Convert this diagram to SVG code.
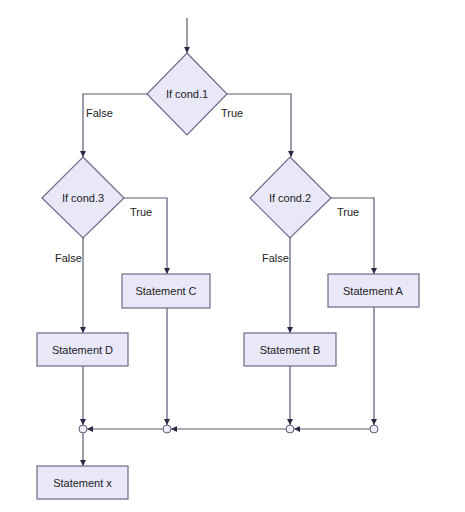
<svg xmlns="http://www.w3.org/2000/svg" width="465" height="512" viewBox="0 0 465 512">
<defs>
<style>
.n{fill:#e8e8f8;stroke:#6a6a88;stroke-width:1.2}
.c{fill:none;stroke:#5a5a72;stroke-width:1.2}
.t{font-family:"Liberation Sans",Arial,sans-serif;font-size:11px;fill:#222;text-anchor:middle;dominant-baseline:central}
.l{font-family:"Liberation Sans",Arial,sans-serif;font-size:11px;fill:#222}
.j{fill:#eeeef8;stroke:#5a5a72;stroke-width:1}
</style>
<marker id="a" viewBox="0 0 10 10" refX="10" refY="5" markerWidth="5" markerHeight="5" orient="auto"><path d="M0,0L10,5L0,10z" fill="#2a2a48"/></marker>
</defs>
<rect width="465" height="512" fill="#fff"/>
<g id="connectors">
<path class="c" d="M187,18V53" marker-end="url(#a)"/>
<path class="c" d="M147,94H83V157" marker-end="url(#a)"/>
<path class="c" d="M227,94H291V157" marker-end="url(#a)"/>
<path class="c" d="M124,198H167V274" marker-end="url(#a)"/>
<path class="c" d="M83,238V333" marker-end="url(#a)"/>
<path class="c" d="M331,198H374V274" marker-end="url(#a)"/>
<path class="c" d="M290,238V333" marker-end="url(#a)"/>
<path class="c" d="M83,366V425" marker-end="url(#a)"/>
<path class="c" d="M167,308V425" marker-end="url(#a)"/>
<path class="c" d="M290,366V425" marker-end="url(#a)"/>
<path class="c" d="M374,307V425" marker-end="url(#a)"/>
<path class="c" d="M370,429H294" marker-end="url(#a)"/>
<path class="c" d="M286,429H171" marker-end="url(#a)"/>
<path class="c" d="M163,429H87" marker-end="url(#a)"/>
<path class="c" d="M83,433V466" marker-end="url(#a)"/>
<text class="l" x="86" y="117">False</text>
<text class="l" x="221" y="117">True</text>
<text class="l" x="130" y="216">True</text>
<text class="l" x="55" y="262">False</text>
<text class="l" x="337" y="216">True</text>
<text class="l" x="262" y="262">False</text>
</g>
<g id="cond1"><polygon class="n" points="187,53 227,94 187,135 147,94"/><text class="t" x="187" y="94">If cond.1</text></g>
<g id="cond3"><polygon class="n" points="83,157 124,198 83,238 42,198"/><text class="t" x="83" y="198">If cond.3</text></g>
<g id="cond2"><polygon class="n" points="290,157 331,198 290,238 250,198"/><text class="t" x="290" y="198">If cond.2</text></g>
<g id="stmtC"><rect class="n" x="122" y="274" width="88" height="34"/><text class="t" x="166" y="291">Statement C</text></g>
<g id="stmtA"><rect class="n" x="328" y="274" width="91" height="33"/><text class="t" x="373" y="290.5">Statement A</text></g>
<g id="stmtD"><rect class="n" x="37" y="333" width="91" height="33"/><text class="t" x="82.5" y="349.5">Statement D</text></g>
<g id="stmtB"><rect class="n" x="244" y="333" width="92" height="33"/><text class="t" x="290" y="349.5">Statement B</text></g>
<g id="stmtX"><rect class="n" x="37" y="466" width="91" height="33"/><text class="t" x="82.5" y="482.5">Statement x</text></g>
<g id="j1"><circle class="j" cx="83" cy="429" r="4"/></g>
<g id="j2"><circle class="j" cx="167" cy="429" r="4"/></g>
<g id="j3"><circle class="j" cx="290" cy="429" r="4"/></g>
<g id="j4"><circle class="j" cx="374" cy="429" r="4"/></g>
</svg>
